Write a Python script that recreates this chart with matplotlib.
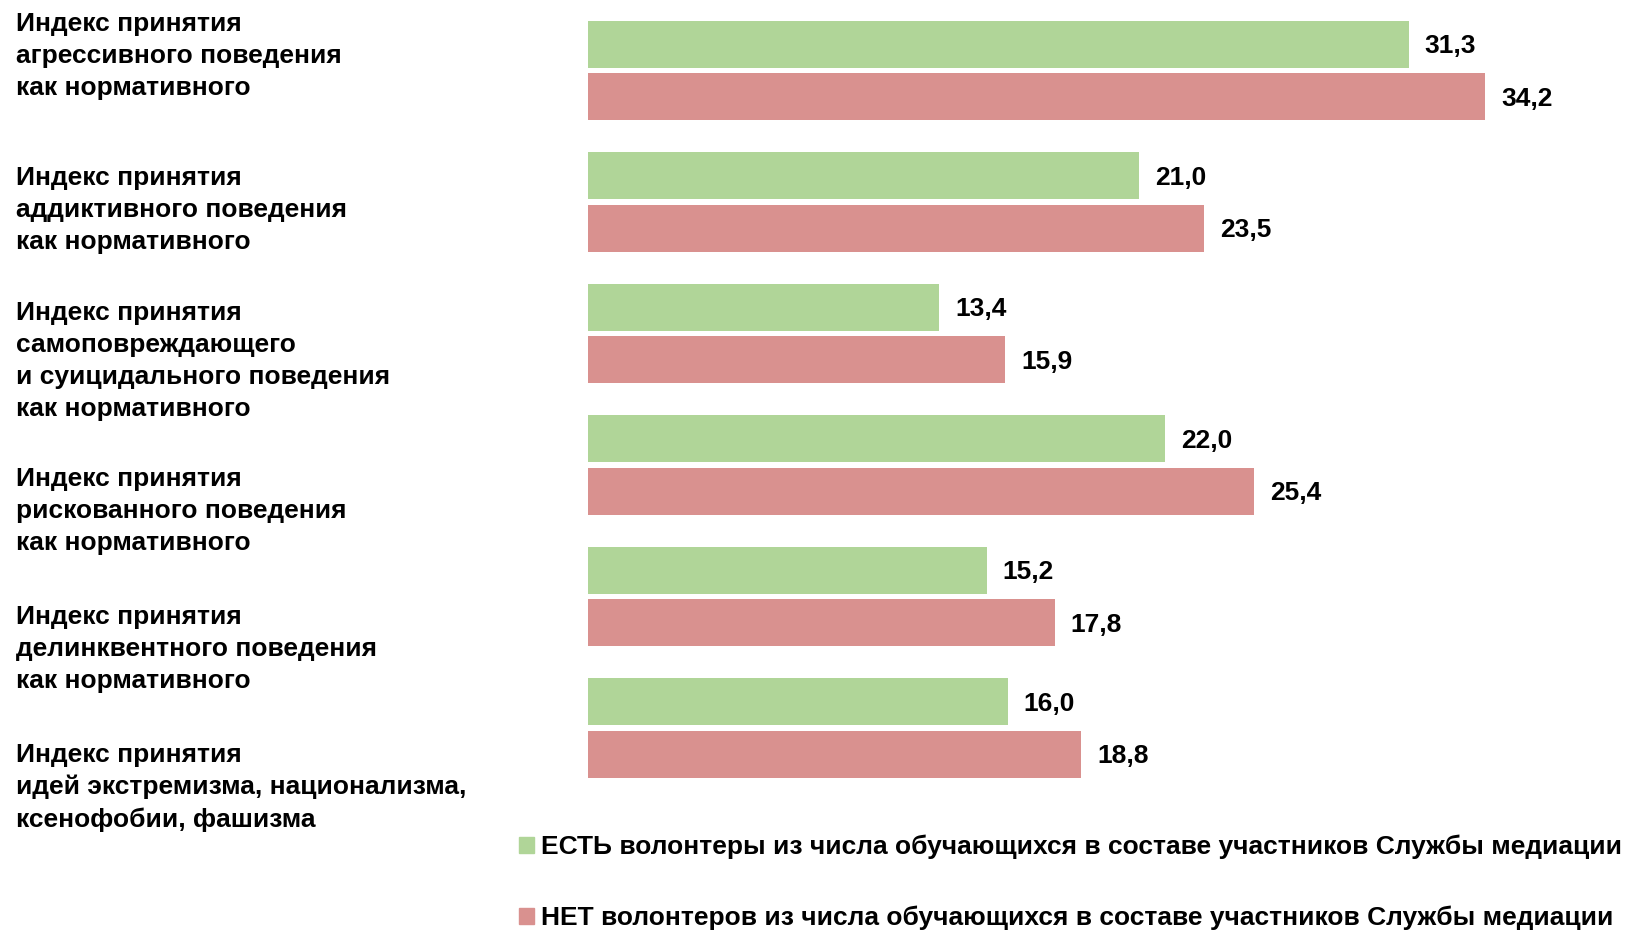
import numpy as np
import matplotlib
matplotlib.use("Agg")
import matplotlib.pyplot as plt
import matplotlib.transforms as mtransforms
from matplotlib.patches import Patch

plt.rcParams['font.family'] = ['Liberation Sans', 'DejaVu Sans']
plt.rcParams['font.weight'] = 'bold'

# data
categories = [
    "Индекс принятия\nагрессивного поведения\nкак нормативного",
    "Индекс принятия\nаддиктивного поведения\nкак нормативного",
    "Индекс принятия\nсамоповреждающего\nи суицидального поведения\nкак нормативного",
    "Индекс принятия\nрискованного поведения\nкак нормативного",
    "Индекс принятия\nделинквентного поведения\nкак нормативного",
    "Индекс принятия\nидей экстремизма, национализма,\nксенофобии, фашизма",
]
with_volunteers = [31.3, 21.0, 13.4, 22.0, 15.2, 16.0]
without_volunteers = [34.2, 23.5, 15.9, 25.4, 17.8, 18.8]
series_names = [
    "ЕСТЬ волонтеры из числа обучающихся в составе участников Службы медиации",
    "НЕТ волонтеров из числа обучающихся в составе участников Службы медиации",
]

# layout: where the category labels sit (in group units, not aligned to bars)
label_pos = [-0.11, 1.06, 2.21, 3.35, 4.40, 5.45]

green = "#B0D598"
red = "#D9918F"

W, H = 1637, 930
fig = plt.figure(figsize=(W / 100, H / 100), dpi=100)
ax = fig.add_axes([588 / W, 0.1465, 1 - 588 / W, 0.8484])

y = np.arange(len(categories))
h = 0.36
ax.barh(y - 0.2, with_volunteers, height=h, color=green)
ax.barh(y + 0.2, without_volunteers, height=h, color=red)

for yi, v in zip(y, with_volunteers):
    ax.annotate(f"{v:.1f}".replace(".", ","), (v, yi - 0.2), xytext=(16, -2),
                textcoords="offset pixels", va="center", ha="left", fontsize=19)
for yi, v in zip(y, without_volunteers):
    ax.annotate(f"{v:.1f}".replace(".", ","), (v, yi + 0.2), xytext=(16, -2),
                textcoords="offset pixels", va="center", ha="left", fontsize=19)

ax.set_xlim(0, 40)
ax.set_ylim(5.5, -0.5)
ax.axis("off")

trans = mtransforms.blended_transform_factory(fig.transFigure, ax.transData)
for lab, p in zip(categories, label_pos):
    ax.text(16 / W, p, lab, transform=trans, ha="left", va="center",
            fontsize=19, linespacing=1.42, clip_on=False)

handles = [Patch(color=green), Patch(color=red)]
fig.legend(handles, series_names, loc="upper left",
           bbox_to_anchor=(519 / W, 1 - 835 / H), frameon=False,
           fontsize=19, handlelength=0.55, handleheight=0.55,
           handletextpad=0.3, labelspacing=1.75, borderpad=0, borderaxespad=0)

fig.savefig("out.png", dpi=100)
